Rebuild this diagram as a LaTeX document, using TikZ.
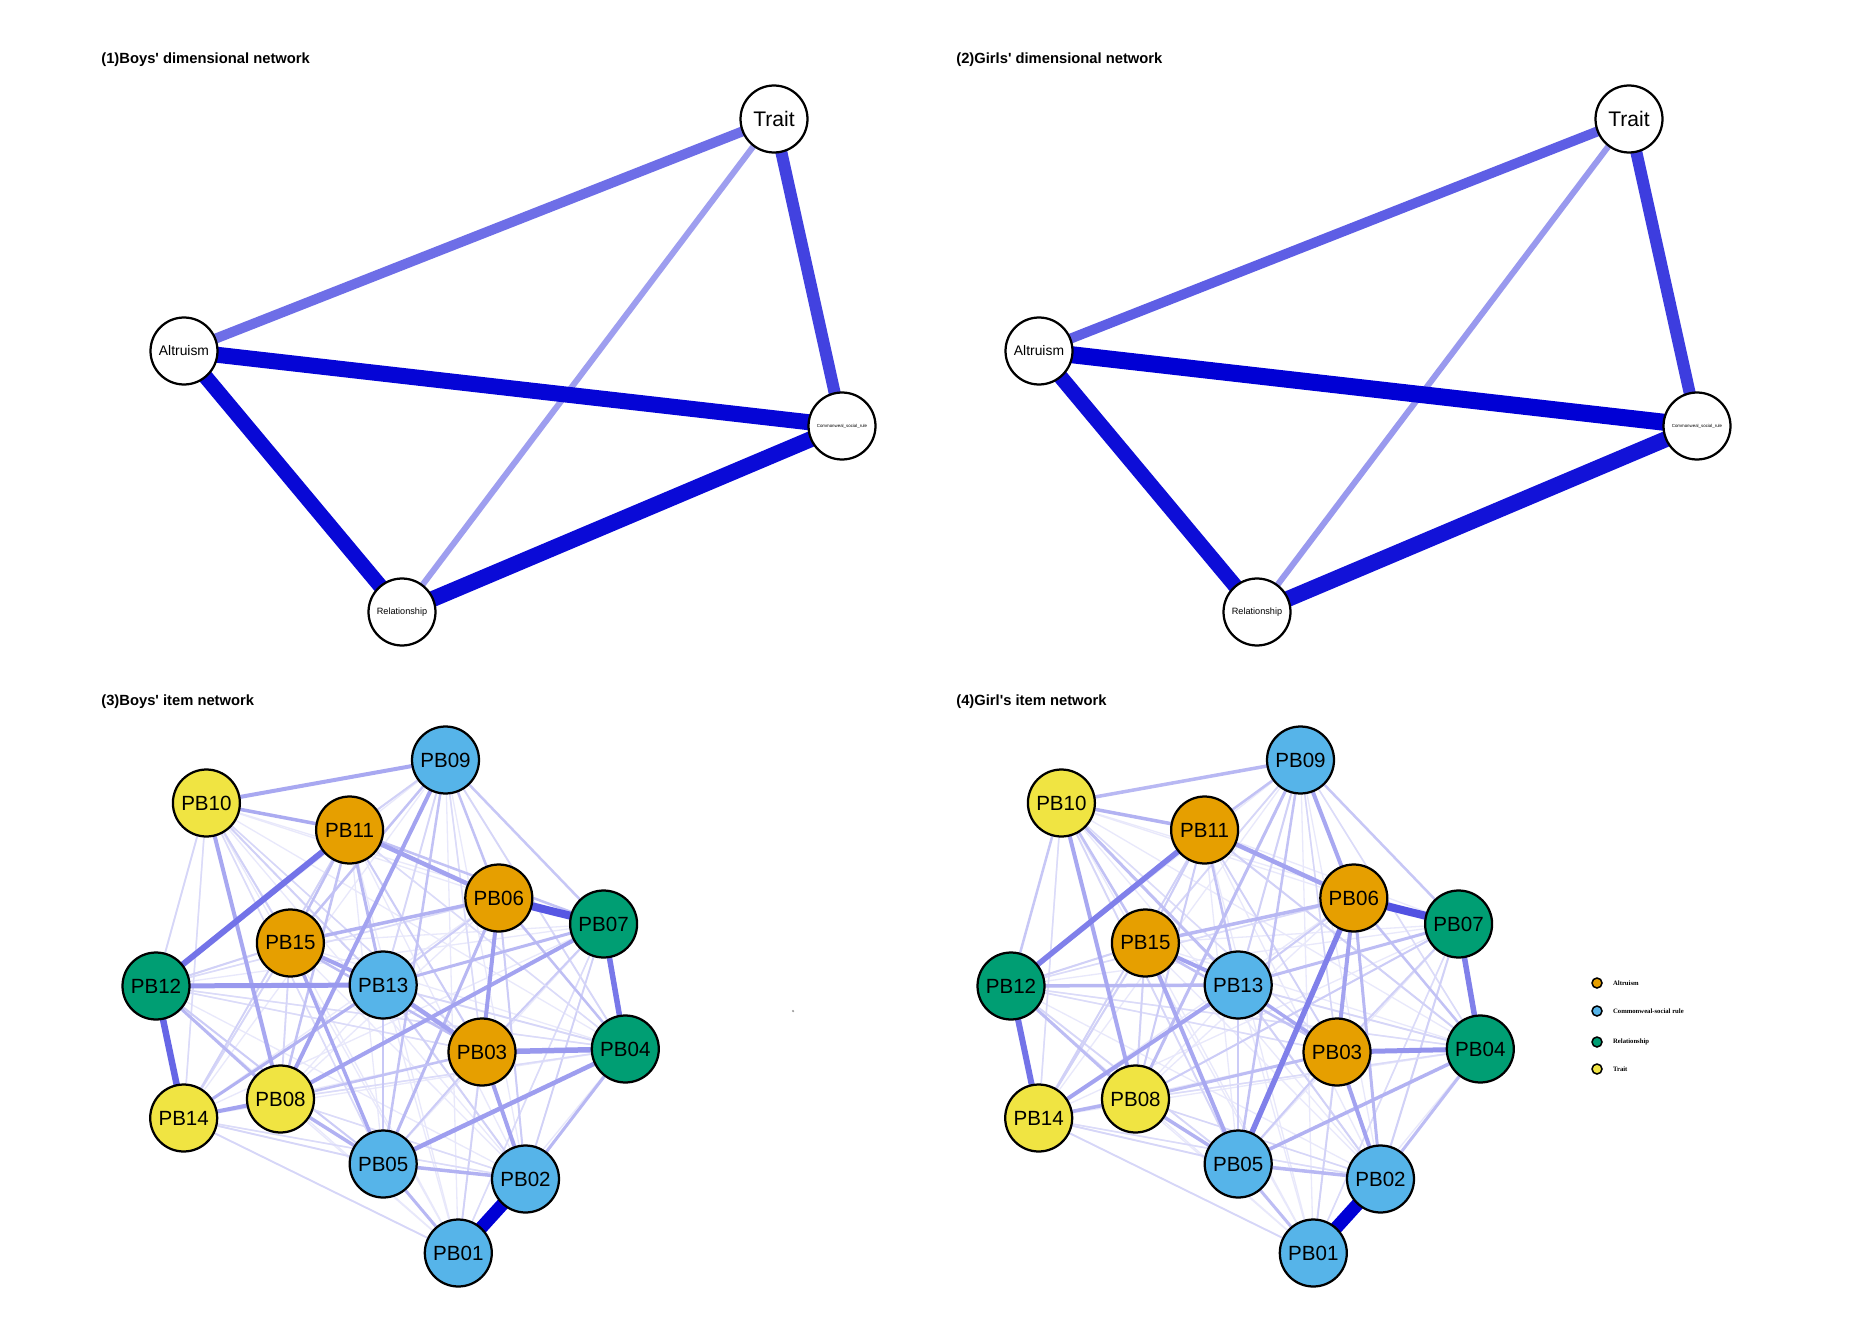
\documentclass[tikz,border=0pt]{standalone}
\usepackage{fontspec}
\setmainfont{Liberation Sans}
\newfontfamily\legendfont{Liberation Serif}
\usetikzlibrary{positioning,backgrounds}

\definecolor{qblue}{HTML}{0000D5}
\definecolor{altcol}{HTML}{E69F00}
\definecolor{comcol}{HTML}{56B4E9}
\definecolor{relcol}{HTML}{009E73}
\definecolor{tracol}{HTML}{F0E442}

\tikzset{
	conn/.style 2 args={line width=#1*0.02cm, draw=qblue!#2},
	dimnode/.style={circle, draw=black, line width=0.045cm, fill=white, minimum size=1.34cm, inner sep=0pt},
	itemnode/.style={circle, draw=black, line width=0.045cm, minimum size=1.34cm, inner sep=0pt, font=\fontsize{11.7}{12}\selectfont},
	paneltitle/.style={anchor=base west, inner sep=0pt, font=\bfseries\fontsize{8.4}{10}\selectfont},
	legdot/.style={circle, draw=black, line width=0.03cm, minimum size=0.2cm, inner sep=0pt},
	legtext/.style={inner sep=0pt, font=\legendfont\bfseries\fontsize{3.8}{4.5}\selectfont},
}

% item nodes of one network: #1 name prefix, #2 shift in x
\newcommand\itemnodes[2]{%
	\foreach \n/\lab/\x/\y/\cl in {1/01/458.3/1253/comcol, 2/02/525.5/1179/comcol, 3/03/482/1052/altcol,
		4/04/625.3/1049/relcol, 5/05/383.2/1164/comcol, 6/06/498.8/898/altcol, 7/07/603.6/924/relcol,
		8/08/280.5/1099/tracol, 9/09/445.5/760/comcol, 10/10/206.4/803/tracol, 11/11/349.6/830/altcol,
		12/12/156/986/relcol, 13/13/383.2/985/comcol, 14/14/183.7/1118/tracol, 15/15/290.4/943/altcol}
		\node[itemnode, fill=\cl] (#1\n) at (\x+#2,\y) {PB\lab};
}
% faint mesh first, then the listed edges (weak to strong)
\newcommand\itemedges[2]{%
	\begin{scope}[on background layer]
		\foreach \i in {1,...,14}{
			\pgfmathtruncatemacro\k{\i+1}
			\foreach \j in {\k,...,15}
				\draw[conn={1.3}{9}] (#1\i.center) -- (#1\j.center);
		}
		\foreach \a/\b/\w/\p in {#2}
			\draw[conn={\w}{\p}] (#1\a.center) -- (#1\b.center);
	\end{scope}
}

\begin{document}
\begin{tikzpicture}[x=0.02cm, y=-0.02cm]
	\useasboundingbox (0,0) rectangle (1857,1318);
	\begin{scope}[on background layer]
		\fill[white] (0,0) rectangle (1857,1318);
	\end{scope}

	% titles
	\node[paneltitle] (t1) at (101,64) {(1)Boys\textquotesingle{} dimensional network};
	\node[paneltitle] (t2) at (956,64) {(2)Girls\textquotesingle{} dimensional network};
	\node[paneltitle] (t3) at (101,705) {(3)Boys\textquotesingle{} item network};
	\node[paneltitle] (t4) at (956,705) {(4)Girl\textquotesingle{}s item network};

	% (1) boys, dimensions
	\node[dimnode, font=\fontsize{12}{13}\selectfont] (bTrait) at (774,119) {Trait};
	\node[dimnode, font=\fontsize{7.9}{9}\selectfont] (bAlt) at (184,351) {Altruism};
	\node[dimnode, font=\fontsize{2.5}{3}\selectfont] (bCom) at (842,426) {Commonweal\_social\_rule};
	\node[dimnode, font=\fontsize{5.2}{6}\selectfont] (bRel) at (402,612) {Relationship};
	\begin{scope}[on background layer]
		\draw[conn={6}{38}] (bTrait.center) -- (bRel.center);
		\draw[conn={10}{57}] (bTrait.center) -- (bAlt.center);
		\draw[conn={12}{74}] (bTrait.center) -- (bCom.center);
		\draw[conn={16}{96}] (bRel.center) -- (bCom.center);
		\draw[conn={15}{97}] (bAlt.center) -- (bRel.center);
		\draw[conn={16}{98}] (bAlt.center) -- (bCom.center);
	\end{scope}

	% (2) girls, dimensions
	\node[dimnode, font=\fontsize{12}{13}\selectfont] (gTrait) at (1629,119) {Trait};
	\node[dimnode, font=\fontsize{7.9}{9}\selectfont] (gAlt) at (1039,351) {Altruism};
	\node[dimnode, font=\fontsize{2.5}{3}\selectfont] (gCom) at (1697,426) {Commonweal\_social\_rule};
	\node[dimnode, font=\fontsize{5.2}{6}\selectfont] (gRel) at (1257,612) {Relationship};
	\begin{scope}[on background layer]
		\draw[conn={6}{40}] (gTrait.center) -- (gRel.center);
		\draw[conn={10}{63}] (gTrait.center) -- (gAlt.center);
		\draw[conn={12}{76}] (gTrait.center) -- (gCom.center);
		\draw[conn={16}{93}] (gRel.center) -- (gCom.center);
		\draw[conn={15}{95}] (gAlt.center) -- (gRel.center);
		\draw[conn={17}{100}] (gAlt.center) -- (gCom.center);
	\end{scope}

	% (3) boys, items
	\itemnodes{b}{0}
	\itemedges{b}{10/12/1.8/16, 10/14/1.5/14, 10/13/2/18, 10/15/2/18, 10/3/1.5/16, 10/5/1.5/14,
		14/1/1.8/16, 14/5/1.8/16, 14/2/1.5/14, 12/15/2/18, 12/5/2/20, 12/4/1.5/14, 12/3/1.5/14,
		15/14/1.8/16, 9/11/2/18, 9/13/1.8/16, 9/4/1.8/16, 9/3/1.5/14, 7/2/1.8/18, 7/1/1.5/14,
		7/3/2/20, 6/13/2/20, 6/12/1.5/14, 6/2/2/20, 13/4/1.8/16, 13/2/2/18, 3/1/1.8/18, 3/5/2/20,
		4/8/1.5/14, 11/14/1.8/18, 11/3/2/20, 11/4/1.5/14, 8/2/1.5/14, 15/8/1.8/16,
		13/5/2.5/22, 9/7/2.5/22, 9/6/2.5/24, 9/15/2.5/24, 9/5/2.5/24, 11/7/2.5/24, 11/15/2.5/25,
		11/8/2.5/24, 11/13/3/28, 6/4/2.5/25, 6/5/3/28, 3/8/2.5/24, 7/13/3/28, 12/8/3/28,
		15/3/2.5/26, 4/2/3/28, 5/1/3/28, 13/14/3/30, 5/2/3.5/30, 8/5/3.5/30, 15/6/3.5/30,
		10/11/3.5/33, 10/9/4/34, 10/8/4/34, 9/8/4/36, 15/5/3.5/34, 14/8/4/36, 8/7/4/36, 3/2/4/36,
		15/13/4/36, 13/3/4.5/36, 11/6/4.5/36, 6/3/4/38, 5/4/4.5/38, 12/13/5/40, 3/4/5.5/40,
		7/4/5.5/53, 11/12/6/55, 12/14/6.5/60, 6/7/8/66, 1/2/13/100}
	\fill[black!40] (793,1011) circle[radius=0.025cm];

	% (4) girls, items
	\itemnodes{g}{855}
	\itemedges{g}{10/14/1.5/14, 10/3/1.5/14, 10/5/1.8/16, 14/1/1.8/16, 14/5/1.8/16, 14/2/1.5/14,
		12/15/2/18, 12/4/1.5/14, 12/3/1.5/14, 12/5/1.8/16, 15/14/2/18, 15/8/2/18, 9/13/2/18,
		9/4/1.5/14, 9/3/1.5/16, 9/15/1.8/16, 7/2/2/18, 7/1/1.5/14, 7/3/2/18, 7/8/2/20, 6/12/1.5/14,
		6/13/2/20, 13/4/1.8/16, 13/2/2/18, 13/5/2/20, 3/1/1.8/18, 3/5/2/20, 4/8/1.5/14,
		11/14/1.8/18, 11/3/1.8/18, 11/4/2/18, 8/2/1.5/16, 11/15/2/20, 11/8/2/20,
		10/12/2.5/22, 10/15/2.5/24, 10/13/3/25, 9/7/2.5/22, 9/11/2.5/24, 9/5/2.5/24, 9/8/3/26,
		11/13/2.5/24, 6/4/2.5/24, 3/8/3/26, 7/13/3/26, 12/8/3/26, 15/3/2.5/24, 4/2/3/26, 5/1/3/26,
		5/2/3.5/28, 8/5/3.5/30, 15/6/3.5/28, 6/2/3/28, 12/13/3.5/28, 10/9/3.5/28, 10/11/3.5/30,
		5/4/3.5/30, 14/8/3.5/30,
		10/8/4/34, 15/5/4/34, 13/3/3.5/34, 9/6/4/34, 13/14/4/36, 15/13/4/36, 3/2/4/36,
		11/6/4.5/36, 6/3/4/36, 3/4/5/42,
		6/5/5.5/50, 7/4/5.5/50, 11/12/5.5/50, 12/14/6/55, 6/7/8/68, 1/2/13/100}

	% legend
	\node[legdot, fill=altcol] (lalt) at (1597,983) {};
	\node[legtext, right=0.2cm of lalt] (talt) {Altruism};
	\node[legdot, fill=comcol] (lcom) at (1597,1011) {};
	\node[legtext, right=0.2cm of lcom] (tcom) {Commonweal-social rule};
	\node[legdot, fill=relcol] (lrel) at (1597,1042) {};
	\node[legtext, right=0.2cm of lrel] (trel) {Relationship};
	\node[legdot, fill=tracol] (ltra) at (1597,1069) {};
	\node[legtext, right=0.2cm of ltra] (ttra) {Trait};
\end{tikzpicture}
\end{document}
